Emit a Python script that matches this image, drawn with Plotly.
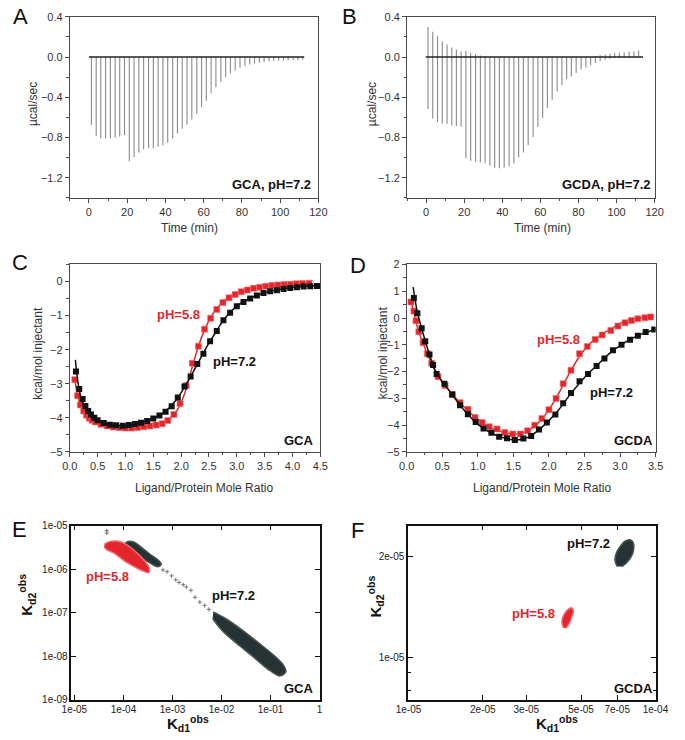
import plotly.graph_objects as go

W, H = 685, 740
FONT = "Liberation Sans, Arial, sans-serif"
RED = "#e3262d"
DARK = "#263234"

# ---------------- Panel A: GCA raw ITC (pH 7.2) ----------------
a_time = [1.3, 3.8, 6.2, 8.7, 11.2, 13.7, 16.1, 18.6,
          21.1, 23.6, 26.1, 28.6, 31.2, 33.7, 36.2, 38.7, 41.2, 43.8,
          46.3, 48.8, 51.3, 53.8, 56.4, 58.9, 61.4, 63.9, 66.4, 69.0,
          71.5, 74.0, 76.5, 79.0, 81.6, 84.1, 86.6, 89.1, 91.6, 94.2,
          96.7, 99.2, 101.7, 104.2, 106.8, 109.3, 111.8]
a_peak = [-0.676, -0.784, -0.807, -0.810, -0.807, -0.800, -0.790, -0.775,
          -1.036, -0.997, -0.948, -0.918, -0.908, -0.908, -0.892, -0.876, -0.853, -0.810,
          -0.761, -0.712, -0.670, -0.620, -0.565, -0.497, -0.435, -0.360, -0.300, -0.245,
          -0.200, -0.163, -0.134, -0.108, -0.092, -0.075, -0.065, -0.056, -0.049, -0.042,
          -0.039, -0.036, -0.033, -0.033, -0.030, -0.030, -0.026]
a_base_t = [0.0, 112.6]

# ---------------- Panel B: GCDA raw ITC (pH 7.2) ----------------
b_time = [1.0, 3.5, 6.0, 8.5, 11.0, 13.5, 15.9, 18.4,
          20.9, 23.4, 26.0, 28.5, 31.0, 33.5, 36.0, 38.5, 41.0, 43.6,
          46.1, 48.6, 51.1, 53.6, 56.2, 58.7, 61.2, 63.7, 66.2, 68.8,
          71.3, 73.8, 76.3, 78.8, 81.4, 83.9, 86.4, 88.9, 91.4, 94.0,
          96.5, 99.0, 101.5, 104.0, 106.6, 109.1, 111.6]
b_neg = [-0.516, -0.611, -0.647, -0.660, -0.663, -0.680, -0.686, -0.693,
         -1.007, -1.030, -1.040, -1.046, -1.056, -1.078, -1.100, -1.105, -1.100, -1.085,
         -1.056, -0.997, -0.948, -0.876, -0.794, -0.696, -0.605, -0.507, -0.425, -0.343,
         -0.278, -0.222, -0.190, -0.157, -0.124, -0.105, -0.082, -0.059, -0.042, -0.026,
         -0.016, -0.010, -0.005, -0.004, -0.003, -0.002, -0.002]
b_pos = [0.300, 0.252, 0.206, 0.157, 0.124, 0.095, 0.075, 0.056,
         0.062, 0.042, 0.030, 0.016, 0.007, 0, 0, 0, 0, 0,
         0, 0, 0, 0, 0, 0, 0, 0, 0, 0,
         0, 0, 0, 0, 0, 0, 0, 0.010, 0.020, 0.026,
         0.033, 0.040, 0.042, 0.046, 0.052, 0.056, 0.062]
b_base_t = [-0.2, 113.9]

# ---------------- Panel C: GCA isotherms ----------------
c72_x = [0.11, 0.17, 0.23, 0.28, 0.33, 0.38, 0.44, 0.50,
         0.61, 0.72, 0.83, 0.95, 1.06, 1.17, 1.28, 1.39, 1.50, 1.61, 1.72, 1.83,
         1.94, 2.06, 2.17, 2.29, 2.40, 2.52, 2.64, 2.76, 2.88, 3.00, 3.12, 3.24,
         3.36, 3.48, 3.60, 3.72, 3.84, 3.96, 4.08, 4.20, 4.32, 4.44]
c72_y = [-2.64, -3.15, -3.45, -3.65, -3.80, -3.90, -4.00, -4.07,
         -4.15, -4.20, -4.22, -4.23, -4.21, -4.18, -4.14, -4.09, -4.02, -3.93, -3.82, -3.66,
         -3.40, -3.08, -2.79, -2.42, -2.12, -1.75, -1.45, -1.14, -0.92, -0.73, -0.60, -0.50,
         -0.41, -0.34, -0.29, -0.26, -0.22, -0.19, -0.17, -0.15, -0.14, -0.13]
c72_fit_x = [0.10, 0.15, 0.20, 0.30, 0.40, 0.50, 0.70, 0.90, 1.10, 1.30, 1.50, 1.70,
             1.90, 2.00, 2.10, 2.20, 2.30, 2.40, 2.50, 2.60, 2.70, 2.80, 3.00, 3.20,
             3.40, 3.60, 3.80, 4.00, 4.20, 4.50]
c72_fit_y = [-2.30, -3.00, -3.40, -3.78, -3.96, -4.07, -4.19, -4.23, -4.20, -4.13, -4.02, -3.83,
             -3.50, -3.26, -2.98, -2.70, -2.40, -2.10, -1.80, -1.54, -1.28, -1.05, -0.72, -0.52,
             -0.38, -0.29, -0.22, -0.18, -0.15, -0.12]
c58_x = [0.09, 0.14, 0.19, 0.25, 0.30, 0.35, 0.40, 0.46,
         0.56, 0.67, 0.78, 0.89, 1.00, 1.11, 1.22, 1.33, 1.44, 1.55, 1.66, 1.76,
         1.87, 1.98, 2.09, 2.20, 2.31, 2.42, 2.53, 2.64, 2.75, 2.86, 2.97, 3.08,
         3.19, 3.30, 3.41, 3.52, 3.63, 3.74, 3.85, 3.96, 4.07, 4.18, 4.30]
c58_y = [-2.88, -3.35, -3.62, -3.80, -3.92, -4.01, -4.07, -4.12,
         -4.19, -4.24, -4.27, -4.29, -4.30, -4.30, -4.28, -4.26, -4.24, -4.21, -4.17, -4.08,
         -3.90, -3.58, -3.05, -2.40, -1.90, -1.40, -1.08, -0.82, -0.62, -0.48, -0.38, -0.30,
         -0.25, -0.20, -0.17, -0.14, -0.12, -0.10, -0.09, -0.08, -0.07, -0.06, -0.05]
c58_fit_x = [0.09, 0.14, 0.20, 0.30, 0.40, 0.50, 0.70, 0.90, 1.10, 1.30, 1.50, 1.65,
             1.80, 1.90, 2.00, 2.10, 2.20, 2.30, 2.40, 2.50, 2.60, 2.70, 2.80, 3.00,
             3.20, 3.40, 3.60, 3.80, 4.00, 4.30]
c58_fit_y = [-2.88, -3.35, -3.65, -3.92, -4.07, -4.15, -4.25, -4.29, -4.30, -4.27, -4.22, -4.16,
             -4.02, -3.85, -3.55, -3.10, -2.50, -1.95, -1.50, -1.15, -0.88, -0.68, -0.53, -0.35,
             -0.24, -0.17, -0.12, -0.10, -0.08, -0.05]

# ---------------- Panel D: GCDA isotherms ----------------
d72_x = [0.10, 0.15, 0.21, 0.26, 0.32, 0.37, 0.42, 0.53, 0.64, 0.75, 0.86, 0.97,
         1.08, 1.19, 1.30, 1.41, 1.52, 1.64, 1.75, 1.86, 1.97, 2.09, 2.20, 2.31,
         2.43, 2.55, 2.67, 2.78, 2.90, 3.02, 3.14, 3.25, 3.36, 3.48]
d72_y = [0.75, 0.18, -0.38, -0.87, -1.36, -1.75, -2.09, -2.45, -2.86, -3.26, -3.59, -3.88,
         -4.12, -4.28, -4.43, -4.49, -4.55, -4.50, -4.40, -4.16, -3.90, -3.60, -3.18, -2.80,
         -2.36, -2.09, -1.79, -1.51, -1.20, -1.00, -0.81, -0.66, -0.52, -0.43]
d72_fit_x = [0.09, 0.15, 0.20, 0.30, 0.40, 0.50, 0.60, 0.80, 1.00, 1.20, 1.40, 1.55,
             1.70, 1.90, 2.10, 2.30, 2.50, 2.70, 2.90, 3.10, 3.30, 3.50]
d72_fit_y = [1.15, 0.20, -0.30, -1.20, -1.95, -2.38, -2.72, -3.42, -3.97, -4.31, -4.50, -4.55,
             -4.46, -4.08, -3.55, -2.85, -2.22, -1.70, -1.22, -0.86, -0.60, -0.42]
d58_x = [0.06, 0.10, 0.13, 0.17, 0.23, 0.29, 0.35, 0.44, 0.54, 0.64, 0.75, 0.86,
         0.96, 1.06, 1.16, 1.27, 1.38, 1.49, 1.60, 1.70, 1.80, 1.90, 2.00, 2.10,
         2.20, 2.31, 2.43, 2.54, 2.65, 2.75, 2.87, 2.97, 3.07, 3.16, 3.25, 3.35, 3.43]
d58_y = [0.60, 0.26, -0.10, -0.51, -0.92, -1.33, -1.69, -2.19, -2.52, -2.86, -3.16, -3.41,
         -3.71, -3.90, -4.06, -4.14, -4.27, -4.33, -4.33, -4.21, -4.00, -3.75, -3.42, -3.00,
         -2.45, -1.95, -1.33, -1.06, -0.80, -0.63, -0.47, -0.30, -0.18, -0.09, -0.03, 0.01, 0.04]
d58_fit_x = [0.06, 0.10, 0.15, 0.20, 0.30, 0.40, 0.50, 0.60, 0.80, 1.00, 1.20, 1.40,
             1.55, 1.70, 1.85, 2.00, 2.15, 2.30, 2.45, 2.60, 2.75, 2.90, 3.05, 3.20, 3.43]
d58_fit_y = [0.60, 0.20, -0.35, -0.75, -1.40, -1.98, -2.40, -2.72, -3.30, -3.78, -4.12, -4.29,
             -4.33, -4.22, -3.92, -3.42, -2.75, -2.00, -1.35, -0.90, -0.60, -0.36, -0.14, -0.03, 0.04]

# ---------------- Panel E: GCA Kd1 vs Kd2 sample clouds (outlines) ----------------
e58_kd1 = [4.11e-5, 4.90e-5, 7.76e-5, 1.22e-4, 1.91e-4, 2.79e-4, 3.39e-4,
           3.24e-4, 2.40e-4, 1.65e-4, 1.05e-4, 6.67e-5, 4.57e-5, 4.07e-5]
e58_kd2 = [3.72e-6, 4.19e-6, 4.37e-6, 3.55e-6, 2.34e-6, 1.48e-6, 1.05e-6,
           8.3e-7, 9.3e-7, 1.15e-6, 1.55e-6, 2.29e-6, 2.82e-6, 3.24e-6]
e72a_kd1 = [1.02e-4, 1.16e-4, 1.57e-4, 2.40e-4, 3.49e-4, 5.11e-4, 5.93e-4,
            5.11e-4, 3.34e-4, 2.22e-4, 1.41e-4, 1.05e-4]
e72a_kd2 = [3.35e-6, 4.19e-6, 4.27e-6, 3.11e-6, 2.21e-6, 1.62e-6, 1.32e-6,
            1.14e-6, 1.43e-6, 1.92e-6, 2.63e-6, 2.95e-6]
e72b_kd1 = [6.82e-3, 1.21e-2, 2.57e-2, 5.47e-2, 1.16e-1, 1.83e-1, 2.06e-1,
            1.57e-1, 1.00e-1, 4.71e-2, 2.21e-2, 1.04e-2, 6.61e-3]
e72b_kd2 = [1.04e-7, 7.33e-8, 4.06e-8, 2.09e-8, 1.05e-8, 6.22e-9, 4.40e-9,
            3.51e-9, 4.55e-9, 9.12e-9, 1.83e-8, 3.85e-8, 7.33e-8]
e72s_kd1 = [4.57e-5, 4.57e-5, 6.40e-4, 7.78e-4, 9.61e-4, 1.17e-3, 1.36e-3, 1.66e-3,
            1.92e-3, 2.38e-3, 2.89e-3, 3.62e-3, 4.54e-3, 5.52e-3]
e72s_kd2 = [7.7e-6, 6.8e-6, 9.6e-7, 8.77e-7, 7.02e-7, 5.70e-7, 4.95e-7, 4.40e-7,
            3.89e-7, 3.27e-7, 2.26e-7, 1.75e-7, 1.47e-7, 1.19e-7]

# ---------------- Panel F: GCDA Kd1 vs Kd2 sample clouds (outlines) ----------------
f72_kd1 = [7.00e-5, 6.86e-5, 6.93e-5, 7.21e-5, 7.53e-5, 7.89e-5, 8.11e-5,
           8.17e-5, 8.00e-5, 7.64e-5, 7.31e-5]
f72_kd2 = [1.862e-5, 1.945e-5, 2.032e-5, 2.138e-5, 2.213e-5, 2.234e-5, 2.198e-5,
           2.104e-5, 2.000e-5, 1.910e-5, 1.862e-5]
f58_kd1 = [4.25e-5, 4.18e-5, 4.24e-5, 4.41e-5, 4.58e-5, 4.65e-5, 4.58e-5, 4.47e-5, 4.34e-5]
f58_kd2 = [1.222e-5, 1.274e-5, 1.330e-5, 1.384e-5, 1.403e-5, 1.377e-5, 1.315e-5, 1.259e-5, 1.222e-5]

# tick labels
e_xticks = [1e-5, 1e-4, 1e-3, 1e-2, 1e-1, 1]
e_xtext = ["1e-05", "1e-04", "1e-03", "1e-02", "1e-01", "1"]
e_yticks = [1e-9, 1e-8, 1e-7, 1e-6, 1e-5]
e_ytext = ["1e-09", "1e-08", "1e-07", "1e-06", "1e-05"]
f_xticks = [1e-5, 2e-5, 3e-5, 5e-5, 7e-5, 1e-4]
f_xtext = ["1e-05", "2e-05", "3e-05", "5e-05", "7e-05", "1e-04"]
f_yticks = [1e-5, 2e-5]
f_ytext = ["1e-05", "2e-05"]
f_yminor = [8e-6, 9e-6]


def spikes(ts, lo, hi):
    X, Y = [], []
    for t, a, b in zip(ts, lo, hi):
        X += [t, t, None]
        Y += [a, b, None]
    return X, Y


fig = go.Figure()

# A
sx, sy = spikes(a_time, [0] * len(a_time), a_peak)
fig.add_trace(go.Scatter(x=sx, y=sy, mode="lines", line=dict(color="#8a8a8a", width=1.1),
                         xaxis="x", yaxis="y", hoverinfo="skip"))
fig.add_trace(go.Scatter(x=a_base_t, y=[0, 0], mode="lines", line=dict(color="#222", width=1.6),
                         xaxis="x", yaxis="y"))
# B
sx, sy = spikes(b_time, b_pos, b_neg)
fig.add_trace(go.Scatter(x=sx, y=sy, mode="lines", line=dict(color="#8a8a8a", width=1.1),
                         xaxis="x2", yaxis="y2", hoverinfo="skip"))
fig.add_trace(go.Scatter(x=b_base_t, y=[0, 0], mode="lines", line=dict(color="#222", width=1.6),
                         xaxis="x2", yaxis="y2"))

# C
fig.add_trace(go.Scatter(x=c58_fit_x, y=c58_fit_y, mode="lines", line=dict(color=RED, width=1.5, shape="spline"),
                         xaxis="x3", yaxis="y3"))
fig.add_trace(go.Scatter(x=c58_x, y=c58_y, mode="markers",
                         marker=dict(symbol="square", size=6, color=RED, line=dict(color="#f07070", width=0.6)),
                         xaxis="x3", yaxis="y3"))
fig.add_trace(go.Scatter(x=c72_fit_x, y=c72_fit_y, mode="lines", line=dict(color="#111", width=1.5, shape="spline"),
                         xaxis="x3", yaxis="y3"))
fig.add_trace(go.Scatter(x=c72_x, y=c72_y, mode="markers",
                         marker=dict(symbol="square", size=6, color="#111"),
                         xaxis="x3", yaxis="y3"))
# D
fig.add_trace(go.Scatter(x=d58_fit_x, y=d58_fit_y, mode="lines", line=dict(color=RED, width=1.5, shape="spline"),
                         xaxis="x4", yaxis="y4"))
fig.add_trace(go.Scatter(x=d58_x, y=d58_y, mode="markers",
                         marker=dict(symbol="square", size=6, color=RED, line=dict(color="#f07070", width=0.6)),
                         xaxis="x4", yaxis="y4"))
fig.add_trace(go.Scatter(x=d72_fit_x, y=d72_fit_y, mode="lines", line=dict(color="#111", width=1.5, shape="spline"),
                         xaxis="x4", yaxis="y4"))
fig.add_trace(go.Scatter(x=d72_x, y=d72_y, mode="markers",
                         marker=dict(symbol="square", size=6, color="#111"),
                         xaxis="x4", yaxis="y4"))

# E
fig.add_trace(go.Scatter(x=e72s_kd1, y=e72s_kd2, mode="markers",
                         marker=dict(symbol="cross-thin", size=3, line=dict(color="#777", width=1)),
                         xaxis="x5", yaxis="y5"))
for xs, ys, col, edge in [(e72a_kd1, e72a_kd2, DARK, "#46534f"),
                          (e72b_kd1, e72b_kd2, DARK, "#46534f"),
                          (e58_kd1, e58_kd2, RED, "#ee6a6e")]:
    fig.add_trace(go.Scatter(x=xs, y=ys, mode="lines", fill="toself", fillcolor=col,
                             line=dict(color=edge, width=1.5, shape="spline"),
                             xaxis="x5", yaxis="y5"))
# F
for xs, ys, col, edge in [(f72_kd1, f72_kd2, DARK, "#46534f"),
                          (f58_kd1, f58_kd2, RED, "#ee6a6e")]:
    fig.add_trace(go.Scatter(x=xs, y=ys, mode="lines", fill="toself", fillcolor=col,
                             line=dict(color=edge, width=1.5, shape="spline"),
                             xaxis="x6", yaxis="y6"))


def dx(l, r):
    return [l / W, r / W]


def dy(t, b):
    return [1 - b / H, 1 - t / H]


def orig_axis(**kw):
    d = dict(showline=True, linecolor="#4a4a4a", linewidth=1, mirror=True,
             ticks="outside", ticklen=4, tickwidth=1, tickcolor="#4a4a4a",
             showgrid=False, zeroline=False,
             tickfont=dict(size=11, color="#333", family=FONT))
    d.update(kw)
    return d


def gnu_axis(**kw):
    d = dict(showline=True, linecolor="#111", linewidth=1.5, mirror="ticks",
             ticks="inside", ticklen=5, tickwidth=1, tickcolor="#111",
             showgrid=False, zeroline=False, type="log", tickmode="array",
             tickfont=dict(size=10, color="#222", family=FONT))
    d.update(kw)
    return d


mn = lambda dt: dict(dtick=dt, ticks="outside", ticklen=2.5, tickcolor="#4a4a4a", showgrid=False)

layout = dict(
    width=W, height=H, autosize=False, showlegend=False,
    margin=dict(l=0, r=0, t=0, b=0), paper_bgcolor="white", plot_bgcolor="white",
    font=dict(family=FONT),
    xaxis=orig_axis(domain=dx(60, 318), range=[-10, 120], dtick=20, tick0=0, minor=mn(10), anchor="y"),
    yaxis=orig_axis(domain=dy(11, 195), range=[-1.4, 0.4], dtick=0.4, tick0=0, tickformat=".1f",
                    minor=mn(0.2), anchor="x"),
    xaxis2=orig_axis(domain=dx(410, 667), range=[-10, 120], dtick=20, tick0=0, minor=mn(10), anchor="y2"),
    yaxis2=orig_axis(domain=dy(11, 195), range=[-1.4, 0.4], dtick=0.4, tick0=0, tickformat=".1f",
                     minor=mn(0.2), anchor="x2"),
    xaxis3=orig_axis(domain=dx(60, 320), range=[0, 4.5], dtick=0.5, tick0=0, tickformat=".1f",
                     minor=mn(0.25), anchor="y3"),
    yaxis3=orig_axis(domain=dy(262.7, 453.3), range=[-5, 0.5], dtick=1, tick0=0, minor=mn(0.5), anchor="x3"),
    xaxis4=orig_axis(domain=dx(409.7, 668), range=[0, 3.5], dtick=0.5, tick0=0, tickformat=".1f",
                     minor=mn(0.25), anchor="y4"),
    yaxis4=orig_axis(domain=dy(262.7, 453.3), range=[-5, 2], dtick=1, tick0=0, minor=mn(0.5), anchor="x4"),
    xaxis5=gnu_axis(domain=dx(61.7, 319.3), range=[-5.06, 0.002], tickvals=e_xticks, ticktext=e_xtext,
                    anchor="y5"),
    yaxis5=gnu_axis(domain=dy(528.3, 705), range=[-9, -5], tickvals=e_yticks, ticktext=e_ytext, anchor="x5"),
    xaxis6=gnu_axis(domain=dx(411, 668.3), range=[-5.002, -3.998], tickvals=f_xticks, ticktext=f_xtext,
                    anchor="y6"),
    yaxis6=gnu_axis(domain=dy(528.3, 705), range=[-5.125, -4.609], tickvals=f_yticks, ticktext=f_ytext,
                    minor=dict(tickvals=f_yminor, ticks="inside", ticklen=3, tickcolor="#111"),
                    anchor="x6"),
)
fig.update_layout(**layout)


def ann(text, px, py, size, color="#111", angle=0):
    return dict(text=text, x=px / W, y=1 - py / H, xref="paper", yref="paper", showarrow=False,
                font=dict(size=size, color=color, family=FONT), textangle=angle,
                xanchor="center", yanchor="middle")


anns = [
    ann("A", 8.5, 11, 22), ann("B", 350, 10.5, 22), ann("C", 8.5, 261, 22),
    ann("D", 359, 264, 22), ann("E", 7.5, 532.5, 22), ann("F", 358.7, 532.7, 22),
    ann("µcal/sec", 22.5, 100, 12, "#333", -90), ann("Time (min)", 184, 226, 12, "#333"),
    ann("µcal/sec", 374.5, 100, 12, "#333", -90), ann("Time (min)", 550.7, 226, 12, "#333"),
    ann("kcal/mol injectant", 27.5, 353, 12, "#333", -90),
    ann("Ligand/Protein Mole Ratio", 199, 490, 12, "#333"),
    ann("kcal/mol injectant", 385, 352, 12, "#333", -90),
    ann("Ligand/Protein Mole Ratio", 550, 490, 12, "#333"),
    ann("<b>GCA, pH=7.2</b>", 269, 181.7, 13),
    ann("<b>GCDA, pH=7.2</b>", 616.7, 181.7, 13),
    ann("<b>pH=5.8</b>", 173, 314, 13, RED), ann("<b>pH=7.2</b>", 231, 361.7, 13),
    ann("<b>GCA</b>", 298, 441.7, 13),
    ann("<b>pH=5.8</b>", 567, 339, 13, RED), ann("<b>pH=7.2</b>", 622, 392.7, 13),
    ann("<b>GCDA</b>", 645, 442, 13),
    ann("<b>pH=5.8</b>", 99, 580, 13, RED), ann("<b>pH=7.2</b>", 230.3, 599.3, 13),
    ann("<b>GCA</b>", 298, 694, 13),
    ann("<b>pH=7.2</b>", 598, 546.7, 13), ann("<b>pH=5.8</b>", 541.7, 617.7, 13, RED),
    ann("<b>GCDA</b>", 645, 694, 13),
    ann("<b>K<sub>d1</sub><sup>obs</sup></b>", 183, 729, 15),
    ann("<b>K<sub>d2</sub><sup>obs</sup></b>", 15, 598, 15, "#111", -90),
    ann("<b>K<sub>d1</sub><sup>obs</sup></b>", 566, 729, 15),
    ann("<b>K<sub>d2</sub><sup>obs</sup></b>", 377, 600, 15, "#111", -90),
]
fig.update_layout(annotations=anns)

fig.write_html(
    "out.html",
    config={"displayModeBar": False, "responsive": False},
    post_script="document.documentElement.style.margin='0px';document.body.style.margin='0px';"
                "document.body.style.padding='0px';document.body.style.overflow='hidden';"
                "document.documentElement.style.overflow='hidden';",
)
